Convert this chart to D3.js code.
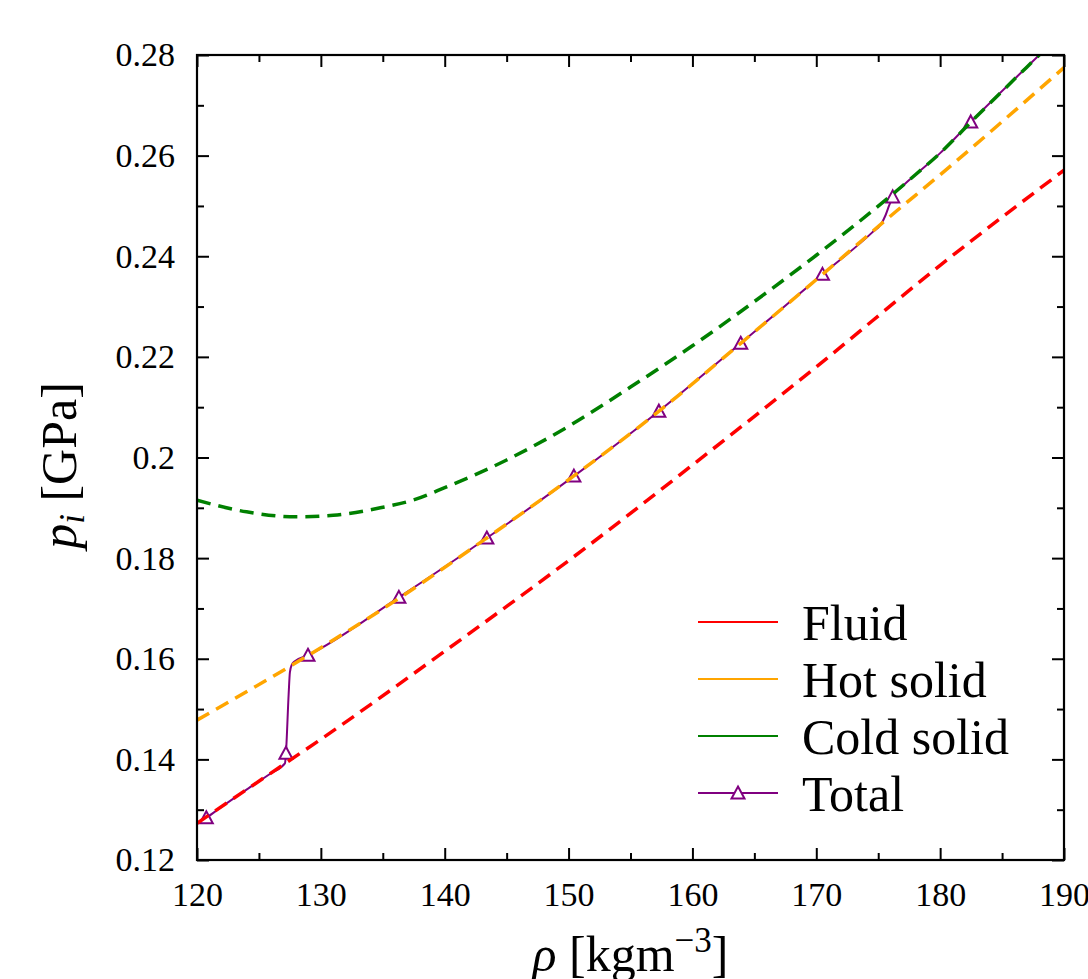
<!DOCTYPE html>
<html>
<head>
<meta charset="utf-8">
<script src="https://cdn.jsdelivr.net/npm/d3@7"></script>
<style>
    html, body { margin: 0; padding: 0; background: #fff; }
    svg { display: block; }
</style>
</head>
<body>
<div id="chart"></div>
<script>
// values
const fluidRho = [120, 127.18, 130, 140, 150, 160, 170, 180, 190];
const fluidP = [0.1273, 0.1393, 0.1440, 0.1615, 0.1795, 0.1985, 0.2180, 0.2382, 0.2571];

const hotRho = [120, 129, 136.3, 143.4, 150.4, 157.3, 163.9, 170.5, 176, 180, 190];
const hotP = [0.1478, 0.1607, 0.1720, 0.1840, 0.1963, 0.2092, 0.2227, 0.2364, 0.2480, 0.2562, 0.2775];

const coldRho = [120, 124, 128, 131, 134.8, 137.4, 140, 145, 150, 155, 160, 165, 170, 176, 178, 180, 182.5, 188, 190];
const coldP = [0.1915, 0.1892, 0.1882, 0.1885, 0.1900, 0.1915, 0.1940, 0.1995, 0.2062, 0.2140, 0.2222, 0.2310, 0.2402, 0.2520, 0.2562, 0.2605, 0.2667, 0.2800, 0.2848];

const totalRho = [120, 120.75, 122, 124, 126, 127.1, 127.18, 127.4, 127.5, 127.65, 127.9, 128.96, 136.3, 143.4, 150.43, 157.29, 163.9, 170.5, 174.5, 175.26, 175.6, 175.9, 176.17, 177, 178, 180, 182.47, 188, 190];
const totalP = [0.1273, 0.1284, 0.1306, 0.1340, 0.1373, 0.1392, 0.1412, 0.1530, 0.1573, 0.1588, 0.1595, 0.1607, 0.1722, 0.1840, 0.1963, 0.2092, 0.2227, 0.2364, 0.2447, 0.2465, 0.2482, 0.2502, 0.2518, 0.2540, 0.2562, 0.2605, 0.2667, 0.2800, 0.2848];

const markerRho = [120.75, 127.18, 128.96, 136.3, 143.4, 150.43, 157.29, 163.9, 170.5, 176.17, 182.47];
const markerP = [0.1284, 0.1412, 0.1607, 0.1722, 0.1840, 0.1963, 0.2092, 0.2227, 0.2364, 0.2518, 0.2667];

const xTicks = [120, 130, 140, 150, 160, 170, 180, 190];
const xTickLabels = ['120', '130', '140', '150', '160', '170', '180', '190'];
const xMinor = [125, 135, 145, 155, 165, 175, 185];
const yTicks = [0.12, 0.14, 0.16, 0.18, 0.2, 0.22, 0.24, 0.26, 0.28];
const yTickLabels = ['0.12', '0.14', '0.16', '0.18', '0.2', '0.22', '0.24', '0.26', '0.28'];
const yMinor = [0.13, 0.15, 0.17, 0.19, 0.21, 0.23, 0.25, 0.27];

const seriesNames = ['Fluid', 'Hot solid', 'Cold solid', 'Total'];
const seriesColors = ['#ff0000', '#ffa500', '#008000', '#800080'];

const FONT = 'Liberation Serif, serif';

document.addEventListener('DOMContentLoaded', () => {
    const width = 1088, height = 979;
    const margin = { top: 55, right: 24, bottom: 119, left: 197 };
    const w = width - margin.left - margin.right;
    const h = height - margin.top - margin.bottom;

    const svg = d3.select('#chart').append('svg')
        .attr('width', width)
        .attr('height', height)
        .attr('font-family', FONT);

    svg.append('rect').attr('width', width).attr('height', height).attr('fill', '#fff');

    const g = svg.append('g').attr('transform', `translate(${margin.left},${margin.top})`);

    const x = d3.scaleLinear().domain([120, 190]).range([0, w]);
    const y = d3.scaleLinear().domain([0.12, 0.28]).range([h, 0]);

    g.append('clipPath').attr('id', 'plot-clip')
        .append('rect').attr('width', w).attr('height', h);

    const line = (rhoArr, pArr) => d3.line()
        .x((d, i) => x(rhoArr[i]))
        .y((d, i) => y(pArr[i]))
        .curve(d3.curveMonotoneX)(rhoArr);

    const plot = g.append('g').attr('clip-path', 'url(#plot-clip)');

    // total first, dashed curves go over it
    plot.append('path')
        .attr('d', line(totalRho, totalP))
        .attr('fill', 'none')
        .attr('stroke', seriesColors[3])
        .attr('stroke-width', 2);

    const triangle = 'M0,-6.5L6.5,5.5L-6.5,5.5Z';
    plot.append('g')
        .selectAll('path')
        .data(markerRho)
        .join('path')
        .attr('d', triangle)
        .attr('transform', (d, i) => `translate(${x(d)},${y(markerP[i])})`)
        .attr('fill', '#fff')
        .attr('stroke', seriesColors[3])
        .attr('stroke-width', 2);

    const dashed = [[fluidRho, fluidP, 0], [hotRho, hotP, 1], [coldRho, coldP, 2]];
    dashed.forEach(([r, p, k]) => {
        plot.append('path')
            .attr('d', line(r, p))
            .attr('fill', 'none')
            .attr('stroke', seriesColors[k])
            .attr('stroke-width', 3.5)
            .attr('stroke-dasharray', '14,8');
    });

    // axes with inward ticks on all four sides
    const styleAxis = sel => {
        sel.attr('font-family', FONT);
        sel.select('.domain').remove();
        sel.selectAll('line').attr('stroke', '#000').attr('stroke-width', 2);
        sel.selectAll('text').attr('font-family', FONT).attr('font-size', 34).attr('fill', '#000');
    };

    g.append('g').attr('transform', `translate(0,${h})`)
        .call(d3.axisBottom(x).tickValues(xTicks).tickFormat((d, i) => xTickLabels[i]).tickSizeInner(-12).tickSizeOuter(0).tickPadding(22))
        .call(styleAxis);
    g.append('g').attr('transform', `translate(0,${h})`)
        .call(d3.axisBottom(x).tickValues(xMinor).tickFormat('').tickSizeInner(-7).tickSizeOuter(0))
        .call(styleAxis);
    g.append('g')
        .call(d3.axisTop(x).tickValues(xTicks).tickFormat('').tickSizeInner(-12).tickSizeOuter(0))
        .call(styleAxis);
    g.append('g')
        .call(d3.axisTop(x).tickValues(xMinor).tickFormat('').tickSizeInner(-7).tickSizeOuter(0))
        .call(styleAxis);

    g.append('g')
        .call(d3.axisLeft(y).tickValues(yTicks).tickFormat((d, i) => yTickLabels[i]).tickSizeInner(-12).tickSizeOuter(0).tickPadding(22))
        .call(styleAxis);
    g.append('g')
        .call(d3.axisLeft(y).tickValues(yMinor).tickFormat('').tickSizeInner(-7).tickSizeOuter(0))
        .call(styleAxis);
    g.append('g').attr('transform', `translate(${w},0)`)
        .call(d3.axisRight(y).tickValues(yTicks).tickFormat('').tickSizeInner(-12).tickSizeOuter(0))
        .call(styleAxis);
    g.append('g').attr('transform', `translate(${w},0)`)
        .call(d3.axisRight(y).tickValues(yMinor).tickFormat('').tickSizeInner(-7).tickSizeOuter(0))
        .call(styleAxis);

    g.append('rect')
        .attr('width', w)
        .attr('height', h)
        .attr('fill', 'none')
        .attr('stroke', '#000')
        .attr('stroke-width', 2.2);

    // axis labels
    const xLabel = svg.append('text')
        .attr('x', margin.left + w / 2)
        .attr('y', 971)
        .attr('text-anchor', 'middle')
        .attr('font-family', FONT)
        .attr('font-size', 50);
    xLabel.append('tspan').attr('font-style', 'italic').text('ρ');
    xLabel.append('tspan').text(' [kgm');
    xLabel.append('tspan').attr('dy', -19).attr('font-size', 35).text('−3');
    xLabel.append('tspan').attr('dy', 19).text(']');

    const yLabel = svg.append('text')
        .attr('transform', `translate(76,${margin.top + h / 2 + 8}) rotate(-90)`)
        .attr('text-anchor', 'middle')
        .attr('font-family', FONT)
        .attr('font-size', 50);
    yLabel.append('tspan').attr('font-style', 'italic').text('p');
    yLabel.append('tspan').attr('font-style', 'italic').attr('dy', 8).attr('font-size', 35).text('i');
    yLabel.append('tspan').attr('dy', -8).text(' [GPa]');

    // legend
    const legend = svg.append('g').attr('transform', 'translate(698,622)');
    seriesNames.forEach((name, i) => {
        const row = legend.append('g').attr('transform', `translate(0,${i * 57})`);
        row.append('line')
            .attr('x1', 0).attr('x2', 80)
            .attr('stroke', seriesColors[i])
            .attr('stroke-width', 2);
        if (name === 'Total') {
            row.append('path')
                .attr('d', triangle)
                .attr('transform', 'translate(40,0)')
                .attr('fill', '#fff')
                .attr('stroke', seriesColors[i])
                .attr('stroke-width', 2);
        }
        row.append('text')
            .attr('x', 104)
            .attr('y', 18)
            .attr('font-family', FONT)
            .attr('font-size', 50)
            .text(name);
    });
});
</script>
</body>
</html>
